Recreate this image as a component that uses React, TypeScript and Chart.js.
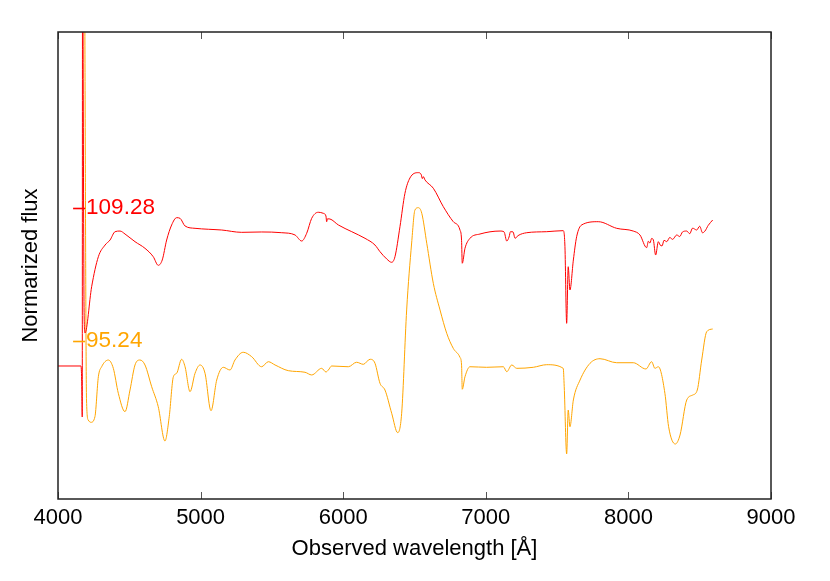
import React, { useEffect, useRef } from "react";
import { Chart, registerables } from "chart.js";

Chart.register(...registerables);

// Spectrum at phase 109.28 d (red), offset flux units
const redWave = [
  4000, 4161, 4166, 4170, 4172, 4183, 4189, 4236, 4283, 4330, 4365, 4400, 4435, 4470, 4540,
  4610, 4668, 4703, 4731, 4762, 4797, 4832, 4856, 4891, 4961, 5054, 5148, 5288, 5428, 5569,
  5662, 5709, 5744, 5779, 5825, 5860, 5879, 5884, 5890, 5907, 5966, 6060, 6153, 6223, 6258,
  6305, 6340, 6363, 6398, 6433, 6468, 6527, 6548, 6555, 6562, 6574, 6632, 6702, 6772, 6819,
  6830, 6835, 6854, 6889, 6959, 7100, 7128, 7147, 7163, 7173, 7191, 7205, 7226, 7287, 7427,
  7543, 7555, 7567, 7578, 7590, 7614, 7637, 7672, 7789, 7918, 8034, 8081, 8128, 8140, 8151,
  8163, 8175, 8191, 8210, 8222, 8236, 8250, 8269, 8290, 8310, 8339, 8360, 8380, 8409, 8430,
  8450, 8479, 8500, 8520, 8537, 8560, 8591,
];
const redFlux = [
  1.424, 1.424, 1.274, 0.878, 6.0, 2.0, 1.777, 2.273, 2.594, 2.719, 2.773, 2.862, 2.869, 2.837, 2.755,
  2.684, 2.594, 2.502, 2.559, 2.773, 2.934, 3.012, 3.005, 2.923, 2.898, 2.888, 2.88, 2.855, 2.859, 2.851,
  2.827, 2.762, 2.845, 3.005, 3.07, 3.059, 3.03, 2.969, 3.0, 2.998, 2.934, 2.862, 2.791, 2.719, 2.648,
  2.57, 2.534, 2.594, 2.915, 3.273, 3.437, 3.494, 3.47, 3.43, 3.451, 3.415, 3.327, 3.13, 2.969, 2.88,
  2.77, 2.524, 2.684, 2.791, 2.837, 2.869, 2.86, 2.762, 2.805, 2.862, 2.86, 2.791, 2.82, 2.851, 2.862,
  2.873, 2.701, 1.881, 2.487, 2.238, 2.559, 2.808, 2.934, 2.969, 2.898, 2.869, 2.827, 2.691, 2.76, 2.74,
  2.79, 2.773, 2.612, 2.755, 2.72, 2.71, 2.77, 2.755, 2.8, 2.78, 2.827, 2.81, 2.86, 2.869, 2.84,
  2.9, 2.88, 2.92, 2.85, 2.869, 2.93, 2.987,
];

// Spectrum at phase 95.24 d (orange)
const orangeWave = [
  4186, 4200, 4212, 4231, 4259, 4283, 4306, 4353, 4388, 4423, 4470, 4505, 4540, 4575, 4610,
  4657, 4703, 4750, 4780, 4809, 4832, 4867, 4891, 4926, 4961, 4996, 5031, 5073, 5113, 5159,
  5206, 5241, 5299, 5358, 5428, 5475, 5522, 5615, 5732, 5779, 5849, 5879, 5896, 5919, 6036,
  6094, 6141, 6188, 6223, 6258, 6293, 6340, 6382, 6410, 6445, 6480, 6503, 6527, 6551, 6586,
  6632, 6679, 6726, 6772, 6819, 6830, 6835, 6854, 6889, 7006, 7123, 7147, 7182, 7217, 7333,
  7427, 7543, 7550, 7567, 7578, 7590, 7614, 7661, 7731, 7801, 7918, 8034, 8123, 8163, 8186,
  8210, 8256, 8282, 8329, 8362, 8409, 8451, 8483, 8514, 8549, 8591,
];
const orangeFlux = [
  6.0, 1.06, 0.846, 0.821, 0.881, 1.309, 1.416, 1.488, 1.399, 1.132, 0.935, 1.167, 1.435, 1.488, 1.435,
  1.202, 0.988, 0.621, 0.881, 1.309, 1.346, 1.496, 1.416, 1.149, 1.346, 1.435, 1.346, 0.945, 1.274, 1.41,
  1.381, 1.488, 1.571, 1.524, 1.416, 1.47, 1.435, 1.374, 1.357, 1.328, 1.399, 1.36, 1.381, 1.424, 1.416,
  1.464, 1.442, 1.496, 1.453, 1.239, 1.167, 0.918, 0.71, 0.918, 2.024, 2.741, 3.094, 3.119, 3.059, 2.738,
  2.309, 2.024, 1.774, 1.613, 1.517, 1.435, 1.175, 1.309, 1.416, 1.41, 1.416, 1.363, 1.435, 1.399, 1.41,
  1.438, 1.399, 1.202, 0.482, 0.953, 0.774, 1.06, 1.274, 1.453, 1.502, 1.459, 1.459, 1.392, 1.47, 1.399,
  1.416, 1.132, 0.774, 0.589, 0.685, 1.06, 1.113, 1.167, 1.488, 1.791, 1.82,
];

const xTicks = [4000, 5000, 6000, 7000, 8000, 9000];

const labelTexts = ["109.28", "95.24"];
const labelFlux = [3.116, 1.692];
const labelWave = [4190, 4190];
const labelColors = ["#ff0000", "#ffa500"];

const FONT = "'Liberation Sans', Arial, sans-serif";

const framePlugin = {
  id: "frame",
  afterDatasetsDraw(chart: any) {
    const { ctx, chartArea, scales } = chart;
    const { left, right, top, bottom } = chartArea;
    ctx.save();
    // inward ticks top & bottom
    ctx.strokeStyle = "#555";
    ctx.lineWidth = 1;
    xTicks.forEach((v) => {
      const px = Math.round(scales.x.getPixelForValue(v)) + 0.5;
      ctx.beginPath();
      ctx.moveTo(px, bottom);
      ctx.lineTo(px, bottom - 7);
      ctx.moveTo(px, top);
      ctx.lineTo(px, top + 7);
      ctx.stroke();
    });
    // frame
    ctx.strokeStyle = "#222";
    ctx.lineWidth = 1.5;
    ctx.strokeRect(left, top, right - left, bottom - top);
    // phase labels
    ctx.font = "22.5px " + FONT;
    ctx.textBaseline = "middle";
    ctx.textAlign = "left";
    labelTexts.forEach((t, i) => {
      const px = scales.x.getPixelForValue(labelWave[i]);
      const py = Math.round(scales.y.getPixelForValue(labelFlux[i])) + 0.5;
      ctx.strokeStyle = labelColors[i];
      ctx.fillStyle = labelColors[i];
      ctx.lineWidth = 1.6;
      ctx.beginPath();
      ctx.moveTo(px - 12, py);
      ctx.lineTo(px, py);
      ctx.stroke();
      ctx.fillText(t, px + 1, py - 1);
    });
    ctx.restore();
  },
};

export default function App() {
  const ref = useRef<HTMLCanvasElement>(null);
  useEffect(() => {
    if (!ref.current) return;
    Chart.defaults.font.family = FONT;
    const chart = new Chart(ref.current, {
      type: "line",
      data: {
        datasets: [
          {
            label: "109.28",
            data: redWave.map((w, i) => ({ x: w, y: redFlux[i] })),
            borderColor: "#ff0000",
            borderWidth: 1,
            pointRadius: 0,
            cubicInterpolationMode: "monotone",
            fill: false,
          },
          {
            label: "95.24",
            data: orangeWave.map((w, i) => ({ x: w, y: orangeFlux[i] })),
            borderColor: "#ffa500",
            borderWidth: 1,
            pointRadius: 0,
            cubicInterpolationMode: "monotone",
            fill: false,
          },
        ],
      },
      options: {
        animation: false,
        responsive: false,
        events: [],
        layout: { padding: { top: 32, right: 59, left: 0, bottom: 0 } },
        plugins: { legend: { display: false }, tooltip: { enabled: false } },
        scales: {
          x: {
            type: "linear",
            position: "bottom",
            min: 4000,
            max: 9000,
            afterBuildTicks: (s: any) => {
              s.ticks = xTicks.map((v) => ({ value: v }));
            },
            afterFit: (s: any) => {
              s.height = 82;
            },
            ticks: {
              font: { size: 22, family: FONT },
              color: "#000",
              padding: 6,
              maxRotation: 0,
              autoSkip: false,
              callback: (v: any) => String(v),
            },
            grid: { display: false, drawTicks: false },
            border: { display: false },
            title: {
              display: true,
              text: "Observed wavelength [Å]",
              color: "#000",
              font: { size: 22, family: FONT },
              padding: { top: 0, bottom: 19 },
            },
          },
          y: {
            type: "linear",
            min: 0,
            max: 5,
            afterFit: (s: any) => {
              s.width = 58;
            },
            ticks: { display: false },
            grid: { display: false, drawTicks: false },
            border: { display: false },
            title: {
              display: true,
              text: "Normarized flux",
              color: "#000",
              font: { size: 22, family: FONT },
              padding: { top: 18, bottom: 0 },
            },
          },
        },
      },
      plugins: [framePlugin],
    });
    return () => chart.destroy();
  }, []);
  return (
    <div style={{ position: "absolute", left: 0, top: 0, width: 830, height: 581, background: "#fff" }}>
      <canvas ref={ref} width={830} height={581} style={{ display: "block" }} />
    </div>
  );
}
